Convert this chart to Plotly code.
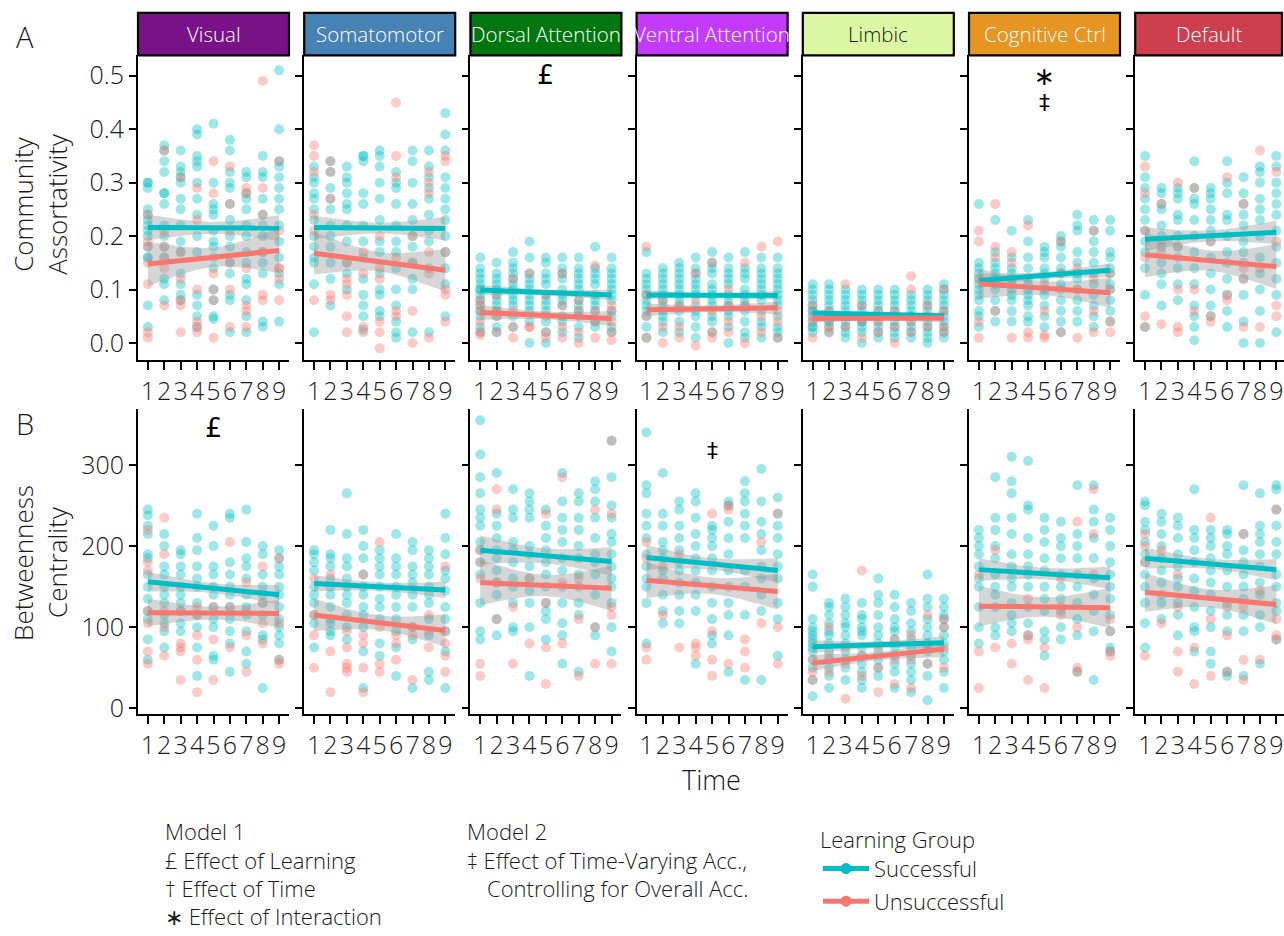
import numpy as np
import plotly.graph_objects as go

W, H = 1284, 936
FONT = "Open Sans"
TEXT_COLOR = "#1a1a1a"

TIMES = [1, 2, 3, 4, 5, 6, 7, 8, 9]
TIME_LABELS = ["1", "2", "3", "4", "5", "6", "7", "8", "9"]

NETWORKS = ["Visual", "Somatomotor", "Dorsal Attention", "Ventral Attention",
            "Limbic", "Cognitive Ctrl", "Default"]
STRIP_FILL = ["#781286", "#4682B4", "#00760E", "#C43AFA", "#DCF8A4", "#E69422", "#CD3E4E"]
STRIP_TEXT = ["#ffffff", "#ffffff", "#ffffff", "#ffffff", "#1a1a1a", "#ffffff", "#ffffff"]

GROUPS = ["Successful", "Unsuccessful"]
GROUP_COLORS = ["#00BFC4", "#F8766D"]

ASSORT_TICKS = [0.0, 0.1, 0.2, 0.3, 0.4, 0.5]
ASSORT_TICK_LABELS = ["0.0", "0.1", "0.2", "0.3", "0.4", "0.5"]
BETW_TICKS = [0, 100, 200, 300]
BETW_TICK_LABELS = ["0", "100", "200", "300"]

# ---------------- Community assortativity: one list per time point ----------------
assort_visual_succ = [
    [0.30, 0.30, 0.29, 0.25, 0.24, 0.23, 0.22, 0.21, 0.20, 0.18, 0.16, 0.16, 0.07, 0.03],
    [0.37, 0.36, 0.34, 0.32, 0.28, 0.28, 0.26, 0.22, 0.20, 0.18, 0.16, 0.12, 0.11, 0.08],
    [0.36, 0.33, 0.32, 0.31, 0.30, 0.27, 0.25, 0.22, 0.19, 0.17, 0.13, 0.11, 0.09, 0.08],
    [0.40, 0.39, 0.35, 0.34, 0.33, 0.30, 0.27, 0.24, 0.20, 0.17, 0.09, 0.07, 0.05, 0.03],
    [0.41, 0.30, 0.26, 0.25, 0.24, 0.21, 0.19, 0.18, 0.16, 0.14, 0.10, 0.08, 0.05, 0.045],
    [0.38, 0.36, 0.32, 0.30, 0.29, 0.26, 0.23, 0.20, 0.18, 0.15, 0.13, 0.09, 0.08, 0.02],
    [0.32, 0.31, 0.28, 0.27, 0.25, 0.22, 0.20, 0.17, 0.15, 0.12, 0.11, 0.08, 0.05, 0.02],
    [0.35, 0.32, 0.31, 0.27, 0.24, 0.22, 0.20, 0.17, 0.15, 0.13, 0.04, 0.03],
    [0.51, 0.40, 0.34, 0.33, 0.31, 0.29, 0.27, 0.25, 0.22, 0.19, 0.16, 0.13, 0.11, 0.04],
]
assort_visual_unsucc = [
    [0.24, 0.19, 0.18, 0.15, 0.11, 0.02, 0.01],
    [0.36, 0.21, 0.18, 0.16, 0.14, 0.07],
    [0.31, 0.17, 0.12, 0.08, 0.07, 0.02],
    [0.29, 0.23, 0.10, 0.04, 0.03, 0.02],
    [0.34, 0.28, 0.13, 0.10, 0.08, 0.01],
    [0.33, 0.26, 0.21, 0.15, 0.10, 0.03],
    [0.29, 0.28, 0.14, 0.07, 0.06, 0.03],
    [0.49, 0.29, 0.24, 0.17, 0.09, 0.08],
    [0.34, 0.21, 0.14, 0.14, 0.12, 0.08],
]
assort_somato_succ = [
    [0.33, 0.31, 0.30, 0.28, 0.27, 0.25, 0.23, 0.20, 0.18, 0.16, 0.15, 0.11, 0.02],
    [0.34, 0.32, 0.29, 0.27, 0.25, 0.22, 0.20, 0.18, 0.15, 0.12, 0.07],
    [0.33, 0.31, 0.30, 0.28, 0.26, 0.25, 0.22, 0.19, 0.15, 0.13, 0.10],
    [0.35, 0.35, 0.34, 0.28, 0.26, 0.22, 0.19, 0.16, 0.12, 0.09, 0.07, 0.05, 0.025],
    [0.36, 0.35, 0.33, 0.30, 0.27, 0.23, 0.19, 0.17, 0.13, 0.10, 0.09, 0.06, 0.05],
    [0.32, 0.30, 0.29, 0.26, 0.22, 0.19, 0.17, 0.14, 0.10, 0.07, 0.04, 0.02, 0.01],
    [0.36, 0.34, 0.30, 0.26, 0.23, 0.20, 0.18, 0.15, 0.12, 0.10, 0.02],
    [0.36, 0.33, 0.31, 0.29, 0.27, 0.24, 0.21, 0.19, 0.14, 0.02],
    [0.43, 0.39, 0.36, 0.31, 0.29, 0.27, 0.25, 0.23, 0.20, 0.17, 0.14, 0.11, 0.05],
]
assort_somato_unsucc = [
    [0.37, 0.35, 0.32, 0.24, 0.21, 0.08],
    [0.34, 0.32, 0.27, 0.09, 0.08],
    [0.15, 0.12, 0.11, 0.09, 0.05, 0.02],
    [0.17, 0.13, 0.03, 0.02],
    [0.20, 0.14, 0.12, 0.04, 0.02, -0.01],
    [0.45, 0.35, 0.31, 0.16, 0.06, 0.05],
    [0.20, 0.15, 0.06, 0.00],
    [0.32, 0.30, 0.28, 0.17, 0.13, 0.01],
    [0.35, 0.34, 0.17, 0.10, 0.09, 0.04],
]
assort_dorsal_succ = [
    [0.16, 0.14, 0.13, 0.12, 0.11, 0.10, 0.10, 0.09, 0.08, 0.07, 0.06, 0.05, 0.03, 0.02],
    [0.15, 0.13, 0.12, 0.11, 0.10, 0.09, 0.08, 0.07, 0.06, 0.05, 0.03, 0.02],
    [0.17, 0.15, 0.14, 0.13, 0.12, 0.11, 0.10, 0.09, 0.08, 0.07, 0.05, 0.03],
    [0.19, 0.16, 0.13, 0.12, 0.11, 0.10, 0.09, 0.08, 0.07, 0.06, 0.04, 0.00],
    [0.16, 0.15, 0.13, 0.12, 0.11, 0.09, 0.08, 0.07, 0.06, 0.04, 0.02, 0.00],
    [0.16, 0.14, 0.13, 0.12, 0.10, 0.09, 0.08, 0.07, 0.05, 0.04, 0.02],
    [0.16, 0.14, 0.13, 0.12, 0.11, 0.10, 0.08, 0.07, 0.06, 0.05, 0.03, 0.01],
    [0.18, 0.14, 0.13, 0.12, 0.11, 0.09, 0.08, 0.07, 0.06, 0.04, 0.03],
    [0.16, 0.14, 0.13, 0.12, 0.11, 0.10, 0.09, 0.08, 0.06, 0.05, 0.03, 0.02],
]
assort_dorsal_unsucc = [
    [0.08, 0.07, 0.06, 0.04, 0.02, 0.015],
    [0.09, 0.06, 0.05, 0.02],
    [0.12, 0.06, 0.03, 0.01],
    [0.13, 0.03, 0.03],
    [0.09, 0.05, 0.02, 0.01],
    [0.13, 0.07, 0.03, 0.01],
    [0.08, 0.06, 0.02, 0.00],
    [0.145, 0.06, 0.04, 0.01],
    [0.07, 0.06, 0.04, 0.02, 0.005],
]
assort_ventral_succ = [
    [0.17, 0.13, 0.12, 0.11, 0.10, 0.09, 0.08, 0.07, 0.06, 0.05, 0.03, 0.01],
    [0.14, 0.13, 0.12, 0.11, 0.10, 0.09, 0.08, 0.07, 0.06, 0.05, 0.04, 0.02],
    [0.15, 0.14, 0.13, 0.12, 0.11, 0.10, 0.09, 0.08, 0.07, 0.06, 0.04, 0.02],
    [0.16, 0.14, 0.13, 0.12, 0.11, 0.10, 0.09, 0.07, 0.06, 0.05, 0.03, 0.01],
    [0.17, 0.15, 0.14, 0.13, 0.11, 0.10, 0.09, 0.08, 0.07, 0.05, 0.04, 0.02],
    [0.16, 0.14, 0.13, 0.12, 0.11, 0.09, 0.08, 0.07, 0.06, 0.05, 0.03, 0.00],
    [0.17, 0.14, 0.13, 0.12, 0.10, 0.09, 0.08, 0.07, 0.06, 0.04, 0.02, 0.01],
    [0.16, 0.14, 0.13, 0.12, 0.11, 0.10, 0.09, 0.08, 0.06, 0.04, 0.03, 0.01],
    [0.16, 0.14, 0.13, 0.12, 0.11, 0.10, 0.09, 0.08, 0.07, 0.05, 0.03, 0.02, 0.01],
]
assort_ventral_unsucc = [
    [0.18, 0.09, 0.05, 0.01],
    [0.08, 0.03, 0.00],
    [0.07, 0.03, 0.01],
    [0.13, 0.08, -0.005],
    [0.15, 0.06, 0.02, 0.01],
    [0.10, 0.07, 0.04, 0.02],
    [0.15, 0.07, 0.00],
    [0.18, 0.05, 0.02],
    [0.19, 0.06, 0.04, 0.01],
]
assort_limbic_succ = [
    [0.11, 0.10, 0.09, 0.08, 0.07, 0.06, 0.06, 0.05, 0.04, 0.03, 0.03, 0.02],
    [0.11, 0.10, 0.09, 0.08, 0.07, 0.06, 0.05, 0.04, 0.04, 0.03, 0.02],
    [0.10, 0.09, 0.08, 0.07, 0.06, 0.05, 0.05, 0.04, 0.03, 0.02, 0.01],
    [0.10, 0.09, 0.08, 0.07, 0.06, 0.05, 0.04, 0.04, 0.03, 0.02, 0.00],
    [0.10, 0.09, 0.08, 0.07, 0.06, 0.05, 0.04, 0.03, 0.02, 0.01],
    [0.10, 0.09, 0.08, 0.07, 0.06, 0.05, 0.05, 0.04, 0.03, 0.02, 0.01],
    [0.09, 0.08, 0.07, 0.06, 0.05, 0.05, 0.04, 0.03, 0.02, 0.01],
    [0.10, 0.09, 0.08, 0.07, 0.06, 0.05, 0.04, 0.03, 0.02, 0.01, 0.00],
    [0.11, 0.10, 0.09, 0.08, 0.07, 0.06, 0.05, 0.04, 0.03, 0.02, 0.01],
]
assort_limbic_unsucc = [
    [0.07, 0.05, 0.04, 0.01],
    [0.06, 0.03, 0.02],
    [0.11, 0.05, 0.03],
    [0.07, 0.04, 0.01],
    [0.06, 0.04, 0.02],
    [0.06, 0.03, 0.00],
    [0.125, 0.10, 0.04, 0.02],
    [0.07, 0.05, 0.03],
    [0.10, 0.06, 0.03, 0.02],
]
assort_cogctrl_succ = [
    [0.26, 0.15, 0.14, 0.13, 0.12, 0.11, 0.10, 0.09, 0.08, 0.06, 0.05, 0.03],
    [0.23, 0.17, 0.15, 0.14, 0.13, 0.12, 0.11, 0.10, 0.08, 0.06, 0.04],
    [0.21, 0.16, 0.14, 0.13, 0.12, 0.11, 0.10, 0.09, 0.08, 0.06, 0.04],
    [0.23, 0.19, 0.16, 0.14, 0.12, 0.11, 0.10, 0.09, 0.08, 0.07, 0.05, 0.04],
    [0.18, 0.17, 0.16, 0.14, 0.13, 0.12, 0.10, 0.09, 0.07, 0.05, 0.03],
    [0.20, 0.19, 0.18, 0.16, 0.14, 0.13, 0.11, 0.10, 0.08, 0.06, 0.04, 0.02],
    [0.24, 0.22, 0.21, 0.17, 0.15, 0.13, 0.12, 0.10, 0.08, 0.06, 0.04],
    [0.23, 0.21, 0.19, 0.17, 0.15, 0.13, 0.11, 0.09, 0.07, 0.05, 0.03],
    [0.23, 0.21, 0.17, 0.16, 0.14, 0.13, 0.11, 0.10, 0.08, 0.06, 0.04],
]
assort_cogctrl_unsucc = [
    [0.21, 0.19, 0.12, 0.04, 0.01],
    [0.26, 0.18, 0.16, 0.06],
    [0.17, 0.15, 0.01],
    [0.22, 0.02, 0.01],
    [0.11, 0.06, 0.015, 0.01],
    [0.19, 0.13, 0.02],
    [0.14, 0.10, 0.01],
    [0.21, 0.12, 0.06, 0.02],
    [0.13, 0.10, 0.04, 0.02],
]
assort_default_succ = [
    [0.35, 0.31, 0.29, 0.27, 0.25, 0.23, 0.21, 0.19, 0.17, 0.14, 0.09, 0.03],
    [0.29, 0.28, 0.26, 0.25, 0.22, 0.20, 0.18, 0.15, 0.13, 0.11, 0.07],
    [0.29, 0.28, 0.27, 0.24, 0.23, 0.20, 0.18, 0.16, 0.14, 0.11, 0.08],
    [0.34, 0.29, 0.27, 0.26, 0.23, 0.20, 0.17, 0.14, 0.11, 0.07, 0.05, 0.03, 0.005],
    [0.29, 0.28, 0.27, 0.25, 0.23, 0.21, 0.19, 0.16, 0.13, 0.10, 0.07, 0.05],
    [0.34, 0.30, 0.28, 0.24, 0.23, 0.20, 0.17, 0.15, 0.12, 0.09, 0.06, 0.03],
    [0.31, 0.28, 0.26, 0.24, 0.22, 0.19, 0.17, 0.15, 0.12, 0.09, 0.04, 0.00],
    [0.33, 0.32, 0.30, 0.27, 0.25, 0.23, 0.20, 0.16, 0.13, 0.10, 0.06, 0.00],
    [0.35, 0.33, 0.30, 0.28, 0.26, 0.24, 0.21, 0.18, 0.15, 0.12, 0.09, 0.02],
]
assort_default_unsucc = [
    [0.33, 0.28, 0.21, 0.16, 0.05, 0.03],
    [0.26, 0.19, 0.17, 0.035],
    [0.30, 0.18, 0.10, 0.03, 0.02],
    [0.29, 0.10, 0.06],
    [0.19, 0.05, 0.04],
    [0.31, 0.09, 0.08],
    [0.26, 0.14, 0.12, 0.03],
    [0.36, 0.14, 0.03],
    [0.32, 0.19, 0.07, 0.05],
]

# ---------------- Betweenness centrality: one list per time point ----------------
betw_visual_succ = [
    [245, 238, 225, 215, 190, 185, 165, 150, 135, 120, 110, 85, 60],
    [215, 200, 175, 165, 150, 140, 130, 115, 105, 95, 75],
    [195, 190, 175, 165, 150, 140, 130, 120, 105, 95],
    [240, 210, 195, 175, 160, 150, 130, 115, 100, 75, 40],
    [225, 200, 175, 165, 150, 140, 125, 110, 100, 65, 60],
    [240, 235, 180, 165, 150, 140, 125, 110, 95, 80, 45],
    [245, 205, 185, 175, 160, 140, 125, 115, 95, 70, 55],
    [200, 190, 165, 150, 140, 130, 115, 90, 85, 25],
    [195, 185, 175, 165, 150, 140, 125, 110, 100, 90, 80, 60],
]
betw_visual_unsucc = [
    [220, 180, 170, 120, 105, 70, 55],
    [235, 190, 120, 100, 65],
    [120, 80, 75, 70, 35],
    [125, 115, 90, 60, 20],
    [125, 85, 35],
    [205, 125, 75],
    [155, 120, 90, 45],
    [175, 130, 105, 80],
    [185, 105, 60, 55],
]
betw_somato_succ = [
    [195, 190, 180, 170, 150, 140, 130, 115, 105, 75],
    [220, 190, 185, 175, 160, 150, 140, 125, 110, 105, 95, 90],
    [265, 215, 185, 175, 160, 150, 140, 130, 115, 100, 85],
    [220, 200, 185, 165, 150, 140, 125, 115, 100, 70, 25],
    [195, 185, 175, 165, 150, 135, 125, 110, 80, 65],
    [215, 185, 175, 165, 150, 140, 125, 110, 95, 75, 40],
    [205, 195, 175, 165, 155, 140, 125, 100, 85, 25],
    [195, 185, 175, 165, 150, 140, 130, 110, 90, 45, 35],
    [240, 210, 190, 170, 160, 145, 125, 110, 95, 70, 25],
]
betw_somato_unsucc = [
    [160, 115, 90, 50],
    [165, 70, 20],
    [95, 75, 55, 50, 45],
    [165, 90, 80, 50, 20],
    [205, 100, 55, 45],
    [90, 80, 60],
    [100, 90, 35],
    [115, 95, 75],
    [175, 95, 80, 65, 45],
]
betw_dorsal_succ = [
    [355, 313, 285, 265, 245, 235, 225, 205, 195, 180, 165, 130, 95, 85],
    [290, 240, 225, 210, 195, 185, 170, 155, 140, 110, 90],
    [270, 245, 235, 205, 195, 180, 160, 150, 130, 100, 95],
    [265, 255, 245, 235, 200, 190, 175, 160, 145, 130, 100, 40],
    [245, 225, 210, 195, 180, 165, 150, 130, 120, 110, 85],
    [290, 255, 235, 220, 205, 185, 170, 150, 130, 105, 90, 55],
    [265, 255, 235, 220, 200, 185, 165, 150, 130, 115, 45],
    [280, 270, 255, 235, 210, 190, 180, 165, 140, 100, 90],
    [330, 285, 250, 235, 215, 205, 190, 175, 160, 150, 130, 100, 70],
]
betw_dorsal_unsucc = [
    [195, 180, 160, 55, 40],
    [270, 245, 155, 110],
    [125, 55],
    [160, 80],
    [240, 130, 75, 30],
    [285, 155, 80],
    [160, 110, 40],
    [245, 100, 55],
    [330, 240, 125, 115, 55],
]
betw_ventral_succ = [
    [340, 275, 265, 240, 225, 210, 190, 175, 160, 150, 130, 80],
    [290, 240, 225, 205, 195, 185, 170, 160, 140, 120, 105],
    [255, 245, 225, 210, 195, 180, 170, 155, 140, 120, 105],
    [265, 255, 235, 215, 200, 185, 170, 155, 140, 120, 55],
    [225, 220, 210, 200, 185, 170, 150, 130, 110, 90, 80],
    [255, 250, 230, 210, 190, 170, 150, 130, 115, 90, 45],
    [280, 265, 255, 240, 225, 210, 170, 150, 115, 35],
    [295, 255, 230, 215, 195, 175, 160, 140, 120, 35],
    [260, 240, 225, 210, 190, 175, 160, 130, 110, 65],
]
betw_ventral_unsucc = [
    [205, 185, 75, 60],
    [175, 115],
    [190, 75],
    [80, 75, 65],
    [240, 95, 60, 40],
    [250, 245, 55],
    [85, 70, 50],
    [205, 105],
    [240, 100, 55],
]
betw_limbic_succ = [
    [165, 150, 110, 100, 95, 90, 85, 80, 75, 70, 60, 50, 35, 15],
    [130, 125, 115, 105, 95, 90, 80, 70, 60, 50, 40, 25],
    [135, 125, 115, 105, 100, 90, 80, 70, 60, 50, 35],
    [130, 115, 110, 100, 95, 90, 75, 65, 55, 45, 35, 25],
    [160, 140, 130, 115, 100, 90, 80, 70, 60, 50, 40],
    [140, 125, 110, 100, 95, 85, 75, 65, 55, 45, 25],
    [130, 120, 105, 95, 85, 75, 65, 55, 45, 35, 20],
    [165, 135, 125, 110, 100, 90, 80, 70, 55, 40, 10],
    [135, 125, 115, 110, 100, 90, 80, 70, 60, 45, 25],
]
betw_limbic_unsucc = [
    [60, 45, 35],
    [100, 65, 45],
    [75, 55, 12],
    [170, 65, 40],
    [75, 50, 20],
    [85, 60, 30],
    [90, 60, 25],
    [115, 75, 55],
    [110, 100, 75, 50],
]
betw_cogctrl_succ = [
    [220, 210, 200, 190, 175, 160, 150, 125, 100, 80],
    [285, 235, 220, 200, 185, 165, 150, 140, 125, 100, 90],
    [310, 280, 265, 235, 215, 190, 175, 160, 150, 130, 115, 105, 95],
    [305, 250, 245, 210, 190, 175, 165, 150, 125, 105, 90],
    [235, 220, 205, 185, 170, 150, 135, 120, 95, 85, 65],
    [230, 210, 200, 185, 165, 150, 135, 120, 100, 85],
    [275, 215, 200, 185, 165, 150, 130, 110, 90, 45],
    [275, 245, 230, 210, 185, 160, 140, 120, 95, 35],
    [235, 220, 200, 180, 165, 150, 135, 115, 95, 75, 70],
]
betw_cogctrl_unsucc = [
    [165, 70, 25],
    [195, 75],
    [80, 55],
    [135, 90, 85, 35],
    [75, 25],
    [160, 125, 115],
    [230, 100, 50, 45],
    [270, 215, 165],
    [110, 95, 70, 65],
]
betw_default_succ = [
    [255, 250, 230, 220, 205, 190, 180, 165, 150, 130, 105, 75],
    [240, 230, 215, 200, 185, 170, 155, 140, 130, 110],
    [235, 225, 210, 190, 175, 160, 150, 130, 115, 90],
    [270, 220, 210, 195, 180, 160, 145, 125, 100, 95, 70],
    [220, 210, 200, 185, 170, 155, 140, 120, 100, 70, 55],
    [220, 215, 200, 190, 170, 150, 130, 115, 95, 45, 40],
    [275, 215, 195, 180, 165, 150, 135, 115, 95, 40],
    [265, 225, 215, 205, 190, 175, 155, 140, 115, 100, 55],
    [275, 270, 245, 225, 205, 190, 165, 150, 130, 120, 85],
]
betw_default_unsucc = [
    [215, 200, 180, 65],
    [195, 105],
    [165, 125, 70, 45],
    [75, 30],
    [235, 110, 40],
    [125, 90, 45],
    [215, 125, 60, 35],
    [145, 60],
    [245, 110, 90, 85],
]

# ---------------- Linear fits (value at time 1 and time 9) and 95% CI half-widths ----------------
assort_fit_succ_t1 = [0.216, 0.216, 0.099, 0.090, 0.056, 0.117, 0.194]
assort_fit_succ_t9 = [0.215, 0.214, 0.090, 0.089, 0.051, 0.136, 0.207]
assort_fit_unsucc_t1 = [0.148, 0.168, 0.057, 0.062, 0.046, 0.111, 0.165]
assort_fit_unsucc_t9 = [0.173, 0.136, 0.046, 0.066, 0.047, 0.094, 0.143]
assort_ci_succ_end = [0.024, 0.022, 0.010, 0.008, 0.006, 0.013, 0.022]
assort_ci_succ_mid = [0.011, 0.010, 0.005, 0.004, 0.003, 0.006, 0.010]
assort_ci_unsucc_end = [0.042, 0.040, 0.014, 0.012, 0.008, 0.028, 0.042]
assort_ci_unsucc_mid = [0.018, 0.018, 0.007, 0.006, 0.004, 0.013, 0.019]

betw_fit_succ_t1 = [156, 154, 195, 186, 76, 171, 185]
betw_fit_succ_t9 = [140, 146, 181, 170, 81, 161, 171]
betw_fit_unsucc_t1 = [118, 115, 155, 158, 56, 126, 143]
betw_fit_unsucc_t9 = [117, 96, 148, 144, 73, 124, 128]
betw_ci_succ_end = [12, 10, 18, 15, 8, 14, 13]
betw_ci_succ_mid = [6, 5, 9, 7, 4, 7, 6]
betw_ci_unsucc_end = [17, 20, 28, 22, 10, 25, 24]
betw_ci_unsucc_mid = [8, 9, 13, 10, 5, 12, 11]

# Significance marks: (row, network index, symbol, y value)
SIG_MARKS = [
    (0, 2, "£", 0.503),
    (0, 5, "∗", 0.498),
    (0, 5, "‡", 0.449),
    (1, 0, "£", 346),
    (1, 3, "‡", 318),
]

ROWS = [
    dict(
        succ=[assort_visual_succ, assort_somato_succ, assort_dorsal_succ, assort_ventral_succ,
              assort_limbic_succ, assort_cogctrl_succ, assort_default_succ],
        unsucc=[assort_visual_unsucc, assort_somato_unsucc, assort_dorsal_unsucc, assort_ventral_unsucc,
                assort_limbic_unsucc, assort_cogctrl_unsucc, assort_default_unsucc],
        fit=[(assort_fit_succ_t1, assort_fit_succ_t9, assort_ci_succ_mid, assort_ci_succ_end),
             (assort_fit_unsucc_t1, assort_fit_unsucc_t9, assort_ci_unsucc_mid, assort_ci_unsucc_end)],
        ticks=ASSORT_TICKS, ticklabels=ASSORT_TICK_LABELS, yrange=[-0.032, 0.538],
        top=56, bottom=364, title=("Community", "Assortativity"), title_y=207, tag="A", tag_y=37,
    ),
    dict(
        succ=[betw_visual_succ, betw_somato_succ, betw_dorsal_succ, betw_ventral_succ,
              betw_limbic_succ, betw_cogctrl_succ, betw_default_succ],
        unsucc=[betw_visual_unsucc, betw_somato_unsucc, betw_dorsal_unsucc, betw_ventral_unsucc,
                betw_limbic_unsucc, betw_cogctrl_unsucc, betw_default_unsucc],
        fit=[(betw_fit_succ_t1, betw_fit_succ_t9, betw_ci_succ_mid, betw_ci_succ_end),
             (betw_fit_unsucc_t1, betw_fit_unsucc_t9, betw_ci_unsucc_mid, betw_ci_unsucc_end)],
        ticks=BETW_TICKS, ticklabels=BETW_TICK_LABELS, yrange=[-7.3, 369.5],
        top=413, bottom=722, title=("Betweenness", "Centrality"), title_y=569, tag="B", tag_y=428,
    ),
]

# ---------------- layout geometry (pixels) ----------------
PANEL_LEFT = [138 + 166.2 * i for i in range(7)]
PANEL_W = 151.0
X_LO, X_HI = 0.4, 9.6
PX_PER_T = PANEL_W / (X_HI - X_LO)
STRIP_TOP = 13
TICK_FONT = dict(family=FONT, size=25, color=TEXT_COLOR, weight=300)


def fx(p):
    return p / W


def fy(p):
    return 1 - p / H


def axis_names(k):
    suffix = "" if k == 1 else str(k)
    return "x" + suffix, "y" + suffix, "xaxis" + suffix, "yaxis" + suffix


fig = go.Figure()
layout_axes = {}
annotations = []
shapes = []
grid_t = np.linspace(1, 9, 81)

for r, row in enumerate(ROWS):
    for c in range(7):
        k = r * 7 + c + 1
        xr, yr, xname, yname = axis_names(k)

        # individual observations at each session
        for g, data in enumerate((row["succ"][c], row["unsucc"][c])):
            xs, ys = [], []
            for t, vals in zip(TIMES, data):
                xs += [t] * len(vals)
                ys += vals
            fig.add_trace(go.Scatter(
                x=xs, y=ys, mode="markers", xaxis=xr, yaxis=yr, showlegend=False,
                hoverinfo="skip",
                marker=dict(size=10, color=GROUP_COLORS[g], opacity=0.38, line=dict(width=0)),
            ))

        # confidence ribbons of the linear fits
        for g in range(2):
            t1, t9, mid, end = (a[c] for a in row["fit"][g])
            fit = t1 + (t9 - t1) * (grid_t - 1) / 8
            half = np.sqrt(mid ** 2 + (end ** 2 - mid ** 2) * ((grid_t - 5) / 4) ** 2)
            fig.add_trace(go.Scatter(
                x=np.concatenate([grid_t, grid_t[::-1]]),
                y=np.concatenate([fit + half, (fit - half)[::-1]]),
                mode="lines", fill="toself", fillcolor="rgba(153,153,153,0.4)",
                line=dict(width=0), xaxis=xr, yaxis=yr, showlegend=False, hoverinfo="skip",
            ))

        # fitted lines
        for g in range(2):
            t1, t9 = row["fit"][g][0][c], row["fit"][g][1][c]
            fig.add_trace(go.Scatter(
                x=[1, 9], y=[t1, t9], mode="lines", xaxis=xr, yaxis=yr, showlegend=False,
                hoverinfo="skip", line=dict(color=GROUP_COLORS[g], width=5),
            ))

        left = PANEL_LEFT[c]
        right = min(left + PANEL_W, W)
        layout_axes[xname] = dict(
            domain=[fx(left), fx(right)], range=[X_LO, X_LO + (right - left) / PX_PER_T],
            anchor=yr, tickmode="array", tickvals=TIMES, ticktext=TIME_LABELS,
            showline=True, linecolor="black", linewidth=1.8, mirror=False,
            ticks="outside", ticklen=8, tickwidth=1.8, tickcolor="black",
            showgrid=False, zeroline=False, fixedrange=True, tickangle=0,
            tickfont=TICK_FONT,
        )
        layout_axes[yname] = dict(
            domain=[fy(row["bottom"]), fy(row["top"])], range=row["yrange"],
            anchor=xr, tickmode="array", tickvals=row["ticks"], ticktext=row["ticklabels"],
            showticklabels=(c == 0),
            showline=True, linecolor="black", linewidth=1.8,
            ticks="outside", ticklen=7, tickwidth=1.8, tickcolor="black",
            showgrid=False, zeroline=False, fixedrange=True,
            tickfont=TICK_FONT,
        )

        if r == 0:
            strip_right = min(left + PANEL_W, W - 2)
            shapes.append(dict(
                type="rect", xref="paper", yref="paper", layer="above",
                x0=fx(left), x1=fx(strip_right), y0=fy(row["top"]), y1=fy(STRIP_TOP),
                fillcolor=STRIP_FILL[c], line=dict(color="black", width=2.2),
            ))
            annotations.append(dict(
                xref="paper", yref="paper", x=fx((left + strip_right) / 2),
                y=fy((STRIP_TOP + row["top"]) / 2), text=NETWORKS[c], showarrow=False,
                xanchor="center", yanchor="middle",
                font=dict(family=FONT, size=20.5, color=STRIP_TEXT[c], weight=300),
            ))

    # row title (two stacked rotated lines) and panel tag
    for text, xpos in zip(row["title"], (23, 57)):
        annotations.append(dict(
            xref="paper", yref="paper", x=fx(xpos), y=fy(row["title_y"]), text=text,
            textangle=-90, showarrow=False, xanchor="center", yanchor="middle",
            font=dict(family=FONT, size=26, color=TEXT_COLOR, weight=300),
        ))
    annotations.append(dict(
        xref="paper", yref="paper", x=fx(25), y=fy(row["tag_y"]), text=row["tag"],
        showarrow=False, xanchor="center", yanchor="middle",
        font=dict(family=FONT, size=29, color=TEXT_COLOR, weight=300),
    ))

for r, c, sym, yv in SIG_MARKS:
    k = r * 7 + c + 1
    xr, yr, _, _ = axis_names(k)
    size = {"£": 27, "∗": 25, "‡": 22}[sym]
    annotations.append(dict(
        xref=xr, yref=yr, x=5, y=yv, text=sym, showarrow=False,
        xanchor="center", yanchor="middle",
        font=dict(family="DejaVu Sans", size=size, color="black"),
    ))

annotations.append(dict(
    xref="paper", yref="paper", x=fx(711), y=fy(788), text="Time", showarrow=False,
    xanchor="center", yanchor="middle",
    font=dict(family=FONT, size=27, color=TEXT_COLOR, weight=300),
))

# model key
KEY_LINES = [
    (163, 840, "Model 1"),
    (163, 869, "£ Effect of Learning"),
    (163, 898, "† Effect of Time"),
    (163, 926, "∗ Effect of Interaction"),
    (465, 840, "Model 2"),
    (465, 869, "‡ Effect of Time-Varying Acc.,"),
    (485, 898, "Controlling for Overall Acc."),
]
for xp, yp, text in KEY_LINES:
    annotations.append(dict(
        xref="paper", yref="paper", x=fx(xp), y=fy(yp), text=text, showarrow=False,
        xanchor="left", yanchor="middle",
        font=dict(family=FONT, size=22, color=TEXT_COLOR, weight=300),
    ))

# legend entries for the learning groups
for g, name in enumerate(GROUPS):
    fig.add_trace(go.Scatter(
        x=[None], y=[None], mode="lines+markers", name=name, legendgroup=name,
        line=dict(color=GROUP_COLORS[g], width=5),
        marker=dict(color=GROUP_COLORS[g], size=11),
    ))

fig.update_layout(
    width=W, height=H, margin=dict(l=0, r=0, t=0, b=0),
    paper_bgcolor="white", plot_bgcolor="white",
    font=dict(family=FONT, color=TEXT_COLOR),
    showlegend=True,
    legend=dict(
        x=fx(818), y=fy(828), xanchor="left", yanchor="top", bgcolor="rgba(0,0,0,0)",
        title=dict(text="Learning Group", font=dict(family=FONT, size=22, color=TEXT_COLOR, weight=300)),
        font=dict(family=FONT, size=22, color=TEXT_COLOR, weight=300),
        tracegroupgap=1, itemwidth=46,
    ),
    annotations=annotations,
    shapes=shapes,
    **layout_axes,
)

fig.write_html("out.html")
